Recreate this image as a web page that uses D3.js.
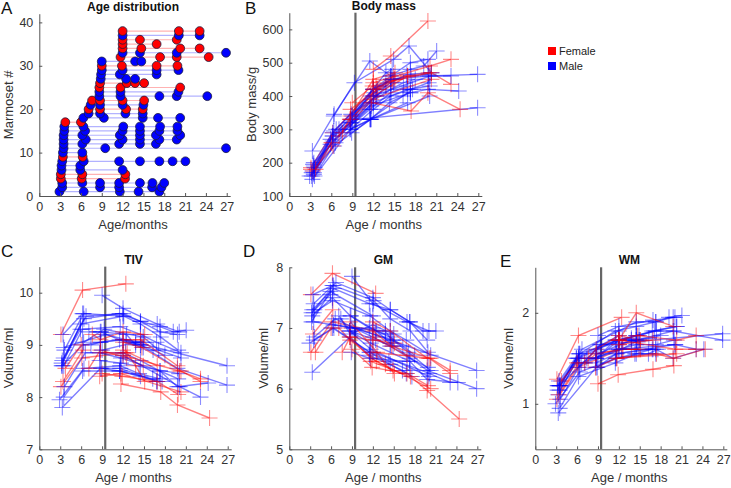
<!DOCTYPE html>
<html><head><meta charset="utf-8">
<script src="https://cdn.jsdelivr.net/npm/d3@7"></script>
<style>
body{margin:0;background:#fff;}
svg{font-family:"Liberation Sans",Arial,Helvetica,sans-serif;}
</style></head>
<body><svg id="c" width="731" height="488"></svg>
<script>
// ---- data (one entry per marmoset, id = index+1) ----
const sexes = ["M","M","M","F","F","M","M","M","F","M","M","M","M","M","M","M","F","M","M","F","M","F","M","M","F","F","M","M","M","F","M","F","M","F","F","F","M","F"];
const ages = [
 [2.9,6.4,11.6,14.3,17.3],[3.3,8.75,11.5,16.25,17.6],[3.3,6.2,8.75,11.5,14.5,16.3,18.0],[3.1,6.1,12.35],[3.1,6.2,12.4],
 [3.2,5.9,12.0],[3.2,5.9],[3.3,6.4,11.5,14.5,17.3,19.2,21.05],[3.4,6.25],[3.4,6.2],
 [3.5,9.5,26.9],[3.5,6.2,11.5,14.5,16.8],[3.5,6.7,12.0,14.5,17.3,19.8],[3.5,6.2,11.6,14.5,16.8,20.3],[3.6,6.6,12.0,14.5,17.3,19.9],
 [3.6,6.35,12.1,14.5,17.4,19.9],[3.75,6.0],[6.35,9.3,14.9,17.1,20.3],[7.1,8.75,12.4,14.9],[7.1,8.75,12.5,14.9],
 [7.4,8.75,12.0,15.0],[7.6,8.75,12.0,15.1],[8.65,11.7,17.3,19.8,24.2],[8.65,11.7,20.05],[8.65,11.7,20.3],
 [8.75,12.6,13.8,15.1],[8.85,12.5,13.8],[8.9,11.6,16.9],[9.0,12.0,16.9,20.05],[9.0,11.9,16.9,19.9],
 [9.0,13.8,14.7],[11.7,17.4,19.8,24.4],[12.0,14.5,19.8,26.9],[12.0,14.7,20.3,23.1],[12.0,16.9],
 [12.0,14.5,19.8],[12.0,20.1,23.1],[12.0,20.1,23.1]];
const mass = [
 [160,250,330,380,410],[150,300,330,400,420],[175,280,320,380,420,440,450],[180,260,400],[185,290,430],
 [160,270,380],[170,255],[235,345,505,460,480,490,535],[175,250],[195,290],
 [200,330,365],[165,265,360,410,430],[190,300,420,460,500,510],[170,280,400,440,465,470],[160,260,360,400,420,440],
 [185,295,410,450,460,465],[180,260],[340,440,510,550,470],[300,330,400,440],[280,330,420,460],
 [290,320,420,450],[290,340,450,470],[310,370,410,420,415],[300,330,400],[330,390,450],
 [360,420,430,450],[345,400,430],[290,330,380],[320,380,420,430],[380,430,460,470],
 [340,470,480],[380,355,410,360],[420,450,460,465],[420,445,470,435],[400,460],
 [480,520,625],[400,460,460],[440,490,510]];
const tiv = [
 [7.95,8.55,8.6,8.45,8.35],[7.8,8.55,8.5,8.35,8.3],[8.6,9.0,9.05,9.1,9.0,8.9,8.8],[8.2,8.75,8.85],[9.2,10.05,10.17],
 [8.6,9.4,9.55],[8.65,9.3],[8.7,9.5,9.6,9.45,9.35,9.25,9.28],[8.3,8.9],[9.2,9.6],
 [8.95,9.2,8.6],[8.0,8.5,8.5,8.4,8.3],[8.75,9.55,9.6,9.45,9.25,9.2],[8.6,9.3,9.35,9.2,9.05,8.85],[8.2,8.85,8.85,8.7,8.5,8.35],
 [8.9,9.6,9.55,9.4,9.15,8.9],[8.55,9.0],[9.05,9.3,9.15,8.9,8.75],[9.25,9.25,9.05,8.95],[8.55,8.9,8.75,8.6],
 [9.0,9.05,9.1,9.05],[9.2,9.1,9.25,9.2],[8.85,8.75,8.5,8.2,8.27],[8.7,8.65,8.45],[8.4,8.45,8.1],
 [8.85,8.85,8.6,8.3],[9.25,9.2,9.0],[8.55,8.55,8.3],[9.95,9.7,9.4,9.25],[8.45,8.4,8.3,8.05],
 [8.9,9.05,9.05],[8.25,8.1,7.85,7.6],[9.1,9.0,8.55,8.23],[9.05,8.95,8.5,8.3],[8.9,8.6],
 [9.1,9.1,8.6],[8.8,8.2,8.0],[8.8,8.5,8.35]];
const gm = [
 [6.75,7.0,6.6,6.45,6.3],[6.27,6.85,6.55,6.3,6.2],[7.2,7.5,7.2,7.0,6.85,6.7,6.55],[6.6,7.1,6.95],[7.55,7.9,7.57],
 [7.1,7.6,7.2],[7.25,7.55],[7.3,7.65,7.4,7.3,7.1,6.95,6.95],[6.9,7.3],[7.55,7.7],
 [7.1,7.0,6.3],[6.8,7.0,6.6,6.4,6.25],[7.4,7.75,7.5,7.3,7.1,6.8],[7.25,7.45,7.2,6.95,6.8,6.55],[6.85,7.15,6.85,6.7,6.5,6.35],
 [7.3,7.7,7.45,7.15,6.95,6.6],[6.6,7.0],[7.05,7.0,6.8,6.6,6.3],[7.2,6.95,6.8,6.7],[7.0,6.8,6.45,6.3],
 [7.15,6.9,7.05,6.9],[6.6,6.85,6.8,6.75],[6.95,6.75,6.45,6.15,6.1],[6.95,6.65,6.2],[6.85,6.5,6.0],
 [7.1,6.6,6.4,6.25],[7.2,6.95,6.9],[6.6,6.5,6.45],[7.85,7.4,7.1,6.95],[6.65,6.35,6.25,6.05],
 [7.0,6.95,6.8],[6.45,6.2,5.97,5.5],[7.0,6.75,6.3,6.0],[6.95,6.7,6.5,6.3],[6.85,6.55],
 [7.1,6.95,6.5],[6.6,6.25,6.1],[6.6,6.5,6.25]];
const wm = [
 [1.0,1.35,1.5,1.55,1.55],[0.9,1.4,1.5,1.55,1.6],[1.2,1.5,1.5,1.7,1.7,1.72,1.75],[1.05,1.4,1.6],[1.27,1.75,1.95],
 [1.15,1.5,1.75],[1.2,1.5],[1.1,1.55,1.8,1.85,1.9,1.95,1.97],[1.1,1.45],[1.25,1.55],
 [1.2,1.65,1.77],[0.95,1.3,1.45,1.55,1.6],[1.2,1.6,1.8,1.9,1.9,1.95],[1.15,1.5,1.7,1.75,1.8,1.85],[1.05,1.45,1.6,1.65,1.65,1.7],
 [1.2,1.55,1.7,1.75,1.8,1.8],[1.25,1.45],[1.4,1.65,1.75,1.8,1.85],[1.45,1.5,1.6,1.7],[1.45,1.55,1.6,1.6],
 [1.5,1.5,1.7,1.7],[1.5,1.6,1.75,1.7],[1.5,1.6,1.6,1.5,1.6],[1.45,1.55,1.65],[1.4,1.5,1.55],
 [1.55,1.6,1.6,1.6],[1.6,1.7,1.72],[1.4,1.55,1.6],[1.75,1.85,1.92,1.95],[1.22,1.32,1.38,1.42],
 [1.55,1.7,1.68],[1.5,1.55,1.5,1.6],[1.65,1.7,1.8,1.7],[1.7,1.75,1.7,1.75],[1.65,1.7],
 [1.7,2.0,1.85],[1.6,1.65,1.6],[1.7,1.6,1.6]];
const xTicks = [0,3,6,9,12,15,18,21,24,27];
const cutoffAge = 9.45;

// ---- drawing ----
const svg = d3.select("#c");
const col = {F:"#ff0000", M:"#0000ff"};
const lineCol = {F:"rgba(255,0,0,0.3)", M:"rgba(0,0,255,0.3)"};
const axisColor = "#555";
const fmt = d => String(d);

function axes(g, x, y, yTicks, ylab, title, xlab, ylabX){
  const xa = d3.axisBottom(x).tickValues(xTicks).tickFormat(fmt).tickSizeInner(-3).tickSizeOuter(0).tickPadding(6);
  const ya = d3.axisLeft(y).tickValues(yTicks).tickFormat(fmt).tickSizeInner(-3).tickSizeOuter(0).tickPadding(6);
  const gx = g.append("g").attr("transform",`translate(0,${y.range()[0]})`).call(xa);
  const gy = g.append("g").attr("transform",`translate(${x.range()[0]},0)`).call(ya);
  [gx,gy].forEach(a=>{
    a.select(".domain").attr("stroke",axisColor);
    a.selectAll(".tick line").attr("stroke",axisColor);
    a.selectAll(".tick text").attr("fill","#333").style("font-size","12.5px").style("font-family","inherit");
  });
  const xm = (x.range()[0]+x(27))/2;
  g.append("text").attr("x",xm).attr("y",y.range()[0]+33).attr("text-anchor","middle")
    .attr("fill","#333").style("font-size","13px").text(xlab);
  const ym = (y.range()[0]+y.range()[1])/2;
  g.append("text").attr("transform",`translate(${ylabX},${ym}) rotate(-90)`).attr("text-anchor","middle")
    .attr("fill","#333").style("font-size","13px").text(ylab);
  g.append("text").attr("x",xm).attr("y",y.range()[1]-3).attr("text-anchor","middle")
    .attr("font-weight","bold").attr("fill","#111").style("font-size","12px").text(title);
}

// Panel A
{
  const x = d3.scaleLinear().domain([0,27.5]).range([39.3,230.2]);
  const y = d3.scaleLinear().domain([0,42]).range([196,13.7]);
  const g = svg.append("g");
  ages.forEach((a,i)=>{
    g.append("line").attr("x1",x(d3.min(a))).attr("x2",x(d3.max(a)))
      .attr("y1",y(i+1)).attr("y2",y(i+1)).attr("stroke",lineCol[sexes[i]]).attr("stroke-width",1.2);
  });
  ages.forEach((a,i)=>{
    g.selectAll(null).data(a).enter().append("circle")
      .attr("cx",d=>x(d)).attr("cy",y(i+1)).attr("r",4.4)
      .attr("fill",col[sexes[i]]).attr("stroke","#1a1a40").attr("stroke-width",0.8);
  });
  axes(g,x,y,[0,10,20,30,40],"Marmoset #","Age distribution","Age/months",12.5);
}

function trajPanel(vals, xr, yDom, yr, yTicks, ylab, title, ylabX){
  const x = d3.scaleLinear().domain([0,27.5]).range(xr);
  const y = d3.scaleLinear().domain(yDom).range(yr);
  const g = svg.append("g");
  axes(g,x,y,yTicks,ylab,title,"Age / months",ylabX);
  g.append("line").attr("x1",x(cutoffAge)).attr("x2",x(cutoffAge)).attr("y1",yr[0]).attr("y2",yr[1])
    .attr("stroke","#666").attr("stroke-width",2.2);
  const line = d3.line().x(d=>x(d[0])).y(d=>y(d[1]));
  vals.forEach((v,i)=>{
    const pts = ages[i].map((a,j)=>[a,v[j]]);
    g.append("path").attr("d",line(pts)).attr("fill","none")
      .attr("stroke",col[sexes[i]]).attr("stroke-opacity",0.5).attr("stroke-width",1.4);
    pts.forEach(p=>{
      const cx=x(p[0]), cy=y(p[1]);
      g.append("path").attr("d",`M${cx-8},${cy}H${cx+8}M${cx},${cy-8}V${cy+8}`)
        .attr("stroke",col[sexes[i]]).attr("stroke-opacity",0.45).attr("stroke-width",1.1);
    });
  });
}

trajPanel(mass,[289.3,481.8],[100,650],[196,12.7],[100,200,300,400,500,600],"Body mass/g","Body mass",255.5);
trajPanel(tiv,[39.3,231.2],[7,10.5],[449.3,266.6],[7,8,9,10],"Volume/ml","TIV",13);
trajPanel(gm,[289.3,480.8],[5,8],[449.3,267.3],[5,6,7,8],"Volume/ml","GM",268);
trajPanel(wm,[535.3,726.8],[0.5,2.5],[449.3,267.3],[1,2],"Volume/ml","WM",513);

// Legend
const legend = [["Female","F"],["Male","M"]];
legend.forEach((l,i)=>{
  svg.append("rect").attr("x",548).attr("y",47+i*15).attr("width",8).attr("height",8).attr("fill",col[l[1]]);
  svg.append("text").attr("x",559).attr("y",55+i*15).attr("fill","#222").style("font-size","11px").text(l[0]);
});

// Panel letters
[["A",1,14],["B",245,14],["C",1,257],["D",243,257],["E",500,267]].forEach(p=>{
  svg.append("text").attr("x",p[1]).attr("y",p[2]).attr("fill","#111").style("font-size","17px").text(p[0]);
});
</script></body></html>
